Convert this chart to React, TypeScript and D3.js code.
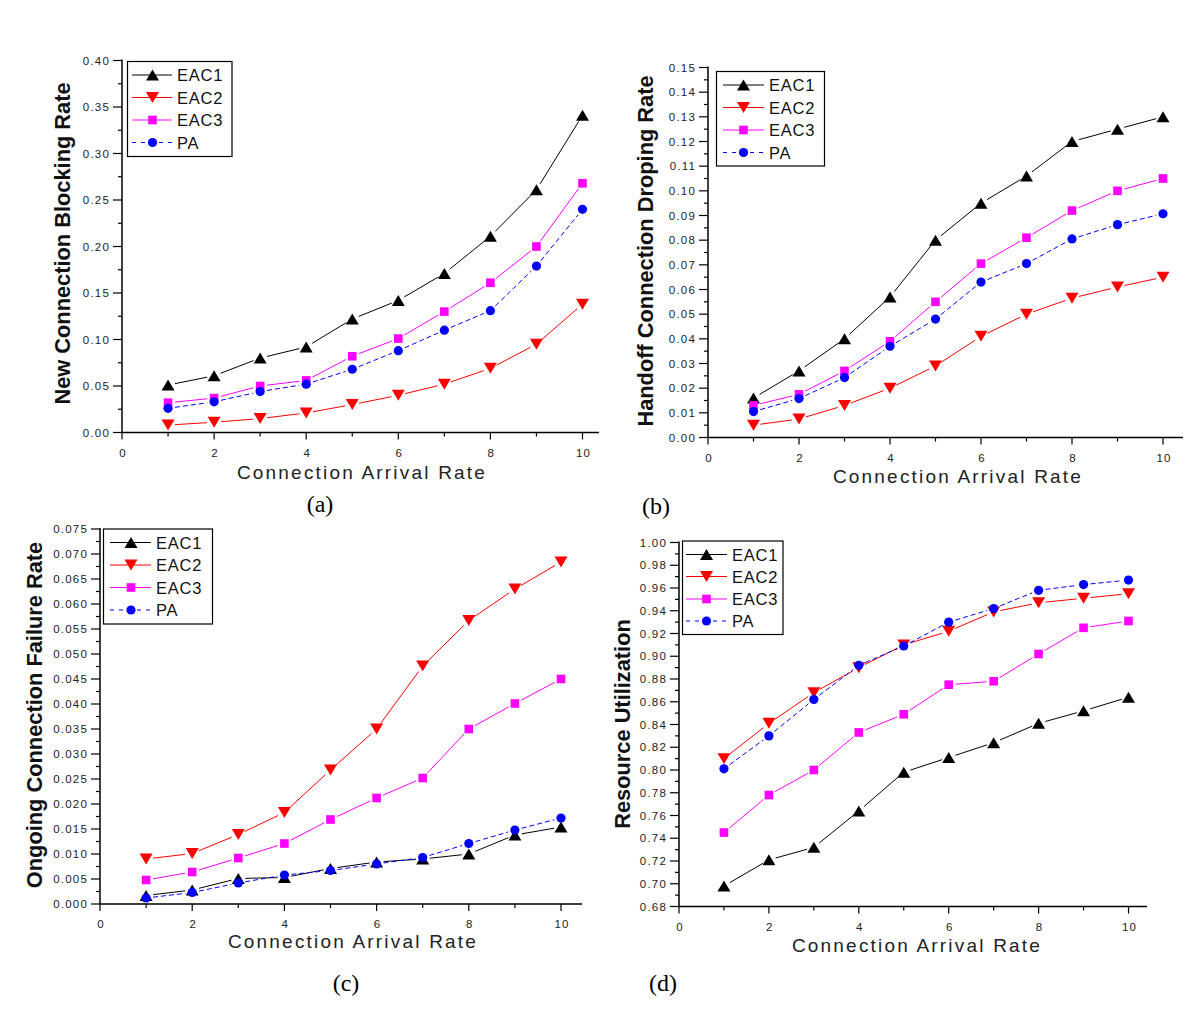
import React from "react";
import * as d3 from "d3";

// ---------------- DATA ----------------
const arrivalRates = [1, 2, 3, 4, 5, 6, 7, 8, 9, 10];
const xTickValues = [0, 2, 4, 6, 8, 10];
const seriesNames = ["EAC1", "EAC2", "EAC3", "PA"];

// (a) New Connection Blocking Rate
const blockingEAC1 = [0.051, 0.061, 0.080, 0.092, 0.122, 0.142, 0.171, 0.211, 0.261, 0.341];
const blockingEAC2 = [0.008, 0.011, 0.015, 0.021, 0.030, 0.040, 0.052, 0.069, 0.095, 0.138];
const blockingEAC3 = [0.032, 0.037, 0.050, 0.056, 0.082, 0.101, 0.130, 0.161, 0.200, 0.268];
const blockingPA = [0.026, 0.033, 0.044, 0.052, 0.068, 0.088, 0.110, 0.131, 0.179, 0.240];

// (b) Handoff Connection Droping Rate
const droppingEAC1 = [0.016, 0.027, 0.040, 0.057, 0.080, 0.095, 0.106, 0.120, 0.125, 0.130];
const droppingEAC2 = [0.005, 0.0075, 0.013, 0.020, 0.029, 0.041, 0.050, 0.0565, 0.061, 0.065];
const droppingEAC3 = [0.013, 0.0175, 0.027, 0.039, 0.055, 0.0705, 0.081, 0.092, 0.100, 0.105];
const droppingPA = [0.0105, 0.0158, 0.0243, 0.037, 0.048, 0.063, 0.0705, 0.0805, 0.0863, 0.0907];

// (c) Ongoing Connection Failure Rate
const failureEAC1 = [0.0017, 0.0028, 0.0051, 0.0053, 0.0071, 0.0084, 0.0090, 0.0100, 0.0138, 0.0154];
const failureEAC2 = [0.0090, 0.0101, 0.0139, 0.0183, 0.0268, 0.0350, 0.0476, 0.0567, 0.0630, 0.0684];
const failureEAC3 = [0.0048, 0.0064, 0.0092, 0.0121, 0.0169, 0.0212, 0.0252, 0.0350, 0.0401, 0.0450];
const failurePA = [0.0012, 0.0023, 0.0042, 0.0058, 0.0067, 0.0080, 0.0093, 0.0121, 0.0148, 0.0172];

// (d) Resource Utilization
const utilEAC1 = [0.698, 0.721, 0.732, 0.764, 0.798, 0.811, 0.824, 0.841, 0.852, 0.864];
const utilEAC2 = [0.810, 0.841, 0.868, 0.890, 0.910, 0.922, 0.939, 0.947, 0.951, 0.955];
const utilEAC3 = [0.745, 0.778, 0.800, 0.833, 0.849, 0.875, 0.878, 0.902, 0.925, 0.931];
const utilPA = [0.801, 0.830, 0.862, 0.892, 0.909, 0.930, 0.942, 0.958, 0.963, 0.967];

// y axis tick specs
const yTicksA = { min: 0, max: 0.4, step: 0.05, digits: 2 };
const yTicksB = { min: 0, max: 0.15, step: 0.01, digits: 2 };
const yTicksC = { min: 0, max: 0.075, step: 0.005, digits: 3 };
const yTicksD = { min: 0.68, max: 1.0, step: 0.02, digits: 2 };

// ---------------- STYLE ----------------
const seriesStyle = [
  { color: "#000000", marker: "up", dash: null },
  { color: "#ff0000", marker: "down", dash: null },
  { color: "#ff00ff", marker: "square", dash: null },
  { color: "#0000ff", marker: "circle", dash: "5,3" },
];

const panels = [
  {
    id: "a", series: [blockingEAC1, blockingEAC2, blockingEAC3, blockingPA], yt: yTicksA,
    ylabel: "New Connection Blocking Rate",
    x0: 122, x10: 582.5, xEnd: 599, yTop: 60.5, yBot: 432.5, ylabelY: 243.5,
    ylabelX: 62, xlabelY: 479, xlabelX: 362, caption: "(a)", capX: 320, capY: 512,
    legend: { x1: 127.5, x2: 232, y1: 61.5, y2: 156.5, rows: [75, 97.5, 120, 142.5], l1: 132, l2: 172, m: 152.5, t: 177 },
  },
  {
    id: "b", series: [droppingEAC1, droppingEAC2, droppingEAC3, droppingPA], yt: yTicksB,
    ylabel: "Handoff Connection Droping Rate",
    x0: 708, x10: 1163, xEnd: 1183, yTop: 67.5, yBot: 437.5, ylabelY: 251,
    ylabelX: 645, xlabelY: 483, xlabelX: 958, caption: "(b)", capX: 656, capY: 514,
    legend: { x1: 716.5, x2: 824.5, y1: 71.5, y2: 166, rows: [85, 107.5, 130, 152.5], l1: 723, l2: 764, m: 743.5, t: 769 },
  },
  {
    id: "c", series: [failureEAC1, failureEAC2, failureEAC3, failurePA], yt: yTicksC,
    ylabel: "Ongoing Connection Failure Rate",
    x0: 100, x10: 561, xEnd: 582, yTop: 529, yBot: 904, ylabelY: 715,
    ylabelX: 34, xlabelY: 948, xlabelX: 353, caption: "(c)", capX: 346, capY: 991,
    legend: { x1: 103.5, x2: 212.5, y1: 529, y2: 624, rows: [542.5, 565, 587.5, 610], l1: 110, l2: 151, m: 131, t: 156 },
  },
  {
    id: "d", series: [utilEAC1, utilEAC2, utilEAC3, utilPA], yt: yTicksD,
    ylabel: "Resource Utilization",
    x0: 679, x10: 1128.5, xEnd: 1147, yTop: 542.5, yBot: 906.5, ylabelY: 724,
    ylabelX: 622, xlabelY: 952, xlabelX: 917, caption: "(d)", capX: 663, capY: 991,
    legend: { x1: 682.5, x2: 783, y1: 541, y2: 634.5, rows: [554.5, 576.5, 599, 621], l1: 686, l2: 727, m: 706.5, t: 732 },
  },
];

const FONT = "'Liberation Sans', Arial, Helvetica, sans-serif";

function Marker({ kind, x, y, color }: { kind: string; x: number; y: number; color: string }) {
  if (kind === "up") {
    const w = 6.5, h = 5.5;
    return <path d={`M${x},${y - h}L${x + w},${y + h}L${x - w},${y + h}Z`} fill={color} />;
  }
  if (kind === "down") {
    const w = 6.5, h = 5.5;
    return <path d={`M${x - w},${y - h}L${x + w},${y - h}L${x},${y + h}Z`} fill={color} />;
  }
  if (kind === "square") {
    const s = 4.3;
    return <rect x={x - s} y={y - s} width={2 * s} height={2 * s} fill={color} />;
  }
  return <circle cx={x} cy={y} r={4.6} fill={color} />;
}

function Panel({ p }: { p: any }) {
  const x = d3.scaleLinear().domain([0, 10]).range([p.x0, p.x10]);
  const y = d3.scaleLinear().domain([p.yt.min, p.yt.max]).range([p.yBot, p.yTop]);
  const nMajor = Math.round((p.yt.max - p.yt.min) / p.yt.step);
  const majors = d3.range(nMajor + 1).map((i) => p.yt.min + i * p.yt.step);
  const minors = d3.range(nMajor).map((i) => p.yt.min + (i + 0.5) * p.yt.step);
  const xMinors = [1, 3, 5, 7, 9];
  const gap = 7;

  return (
    <g>
      {/* series lines with gaps at markers */}
      {p.series.map((vals: number[], si: number) => {
        const st = seriesStyle[si];
        const pts = arrivalRates.map((r, i) => [x(r), y(vals[i])]);
        const segs = [];
        for (let i = 0; i < pts.length - 1; i++) {
          const [ax, ay] = pts[i];
          const [bx, by] = pts[i + 1];
          const len = Math.hypot(bx - ax, by - ay);
          if (len <= 2 * gap) continue;
          const ux = (bx - ax) / len, uy = (by - ay) / len;
          segs.push(
            <line key={i} x1={ax + ux * gap} y1={ay + uy * gap} x2={bx - ux * gap} y2={by - uy * gap}
              stroke={st.color} strokeWidth={1} strokeDasharray={st.dash || undefined} />
          );
        }
        return <g key={si}>{segs}</g>;
      })}
      {p.series.map((vals: number[], si: number) => {
        const st = seriesStyle[si];
        return (
          <g key={"m" + si}>
            {arrivalRates.map((r, i) => (
              <Marker key={i} kind={st.marker} x={x(r)} y={y(vals[i])} color={st.color} />
            ))}
          </g>
        );
      })}

      {/* axes */}
      <line x1={p.x0} y1={p.yTop - 1} x2={p.x0} y2={p.yBot} stroke="#000" strokeWidth={1.5} />
      <line x1={p.x0} y1={p.yBot} x2={p.xEnd} y2={p.yBot} stroke="#000" strokeWidth={1.5} />
      {majors.map((v: number, i: number) => (
        <g key={"ym" + i}>
          <line x1={p.x0 - 9} x2={p.x0} y1={y(v)} y2={y(v)} stroke="#000" strokeWidth={1.2} />
          <text x={p.x0 - 12} y={y(v) + 4} textAnchor="end" fontSize={11.5} fontFamily={FONT}
            letterSpacing={1.2} fill="#222">{v.toFixed(p.yt.digits)}</text>
        </g>
      ))}
      {minors.map((v: number, i: number) => (
        <line key={"yn" + i} x1={p.x0 - 4} x2={p.x0} y1={y(v)} y2={y(v)} stroke="#000" strokeWidth={1.2} />
      ))}
      {xTickValues.map((v: number) => (
        <g key={"xm" + v}>
          <line x1={x(v)} x2={x(v)} y1={p.yBot} y2={p.yBot + 7} stroke="#000" strokeWidth={1.2} />
          <text x={x(v) + 1} y={p.yBot + 24} textAnchor="middle" fontSize={11.5} fontFamily={FONT}
            letterSpacing={1.2} fill="#222">{v}</text>
        </g>
      ))}
      {xMinors.map((v: number) => (
        <line key={"xn" + v} x1={x(v)} x2={x(v)} y1={p.yBot} y2={p.yBot + 4} stroke="#000" strokeWidth={1.2} />
      ))}

      {/* axis titles */}
      <text x={p.xlabelX} y={p.xlabelY} textAnchor="middle" fontSize={19} fontFamily={FONT}
        letterSpacing={2.2} fill="#222">Connection Arrival Rate</text>
      <text transform={`translate(${p.ylabelX},${p.ylabelY}) rotate(-90)`} x={0} y={7.5}
        textAnchor="middle" fontSize={21.8} fontWeight="bold" fontFamily={FONT} fill="#111">{p.ylabel}</text>

      {/* caption */}
      <text x={p.capX} y={p.capY} textAnchor="middle" fontSize={24}
        fontFamily="'Liberation Serif', 'Times New Roman', serif" fill="#000">{p.caption}</text>

      {/* legend */}
      <rect x={p.legend.x1} y={p.legend.y1} width={p.legend.x2 - p.legend.x1} height={p.legend.y2 - p.legend.y1}
        fill="#fff" stroke="#000" strokeWidth={1.2} />
      {seriesNames.map((name, i) => {
        const st = seriesStyle[i];
        const ry = p.legend.rows[i];
        return (
          <g key={"lg" + i}>
            <line x1={p.legend.l1} x2={p.legend.l2} y1={ry} y2={ry} stroke={st.color} strokeWidth={1}
              strokeDasharray={st.dash ? "4,5" : undefined} />
            <Marker kind={st.marker} x={p.legend.m} y={ry} color={st.color} />
            <text x={p.legend.t} y={ry + 6} fontSize={16.5} fontFamily={FONT} letterSpacing={0.8} fill="#111">{name}</text>
          </g>
        );
      })}
    </g>
  );
}

export default function App() {
  return (
    <svg width={1200} height={1013} style={{ position: "absolute", left: 0, top: 0, background: "#fff" }}>
      <rect x={0} y={0} width={1200} height={1013} fill="#fff" />
      {panels.map((p) => (
        <Panel key={p.id} p={p} />
      ))}
    </svg>
  );
}
